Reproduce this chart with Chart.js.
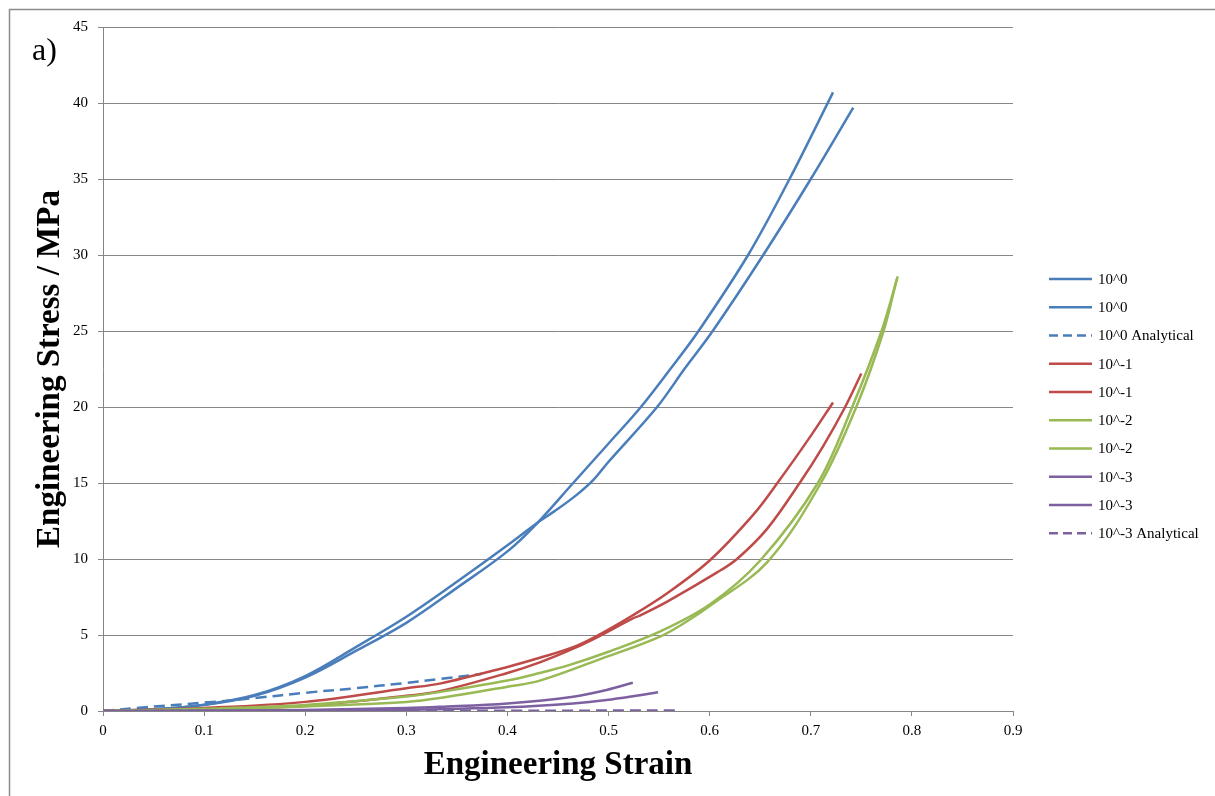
<!DOCTYPE html>
<html>
<head>
<meta charset="utf-8">
<script src="https://cdn.jsdelivr.net/npm/chart.js@4.4.0/dist/chart.umd.min.js"></script>
<style>
  html, body { margin: 0; padding: 0; background: #fff; }
  #wrap { width: 1215px; height: 796px; }
</style>
</head>
<body>
<div id="wrap"><canvas id="chart" width="1215" height="796"></canvas></div>
<script>
// strain / stress
const strain0a = [0, 0.05, 0.1, 0.15, 0.2, 0.25, 0.3, 0.35, 0.4, 0.43, 0.465, 0.5, 0.532, 0.56, 0.589, 0.638, 0.679, 0.722];
const stress0a = [0, 0.12, 0.4, 1.0, 2.2, 3.95, 5.8, 8.1, 10.5, 12.4, 15.0, 17.6, 20.0, 22.4, 25.0, 30.0, 35.0, 40.7];
const strain0b = [0, 0.05, 0.1, 0.15, 0.2, 0.25, 0.3, 0.35, 0.4, 0.43, 0.45, 0.47, 0.485, 0.5, 0.548, 0.575, 0.603, 0.653, 0.7, 0.742];
const stress0b = [0, 0.12, 0.42, 1.05, 2.3, 4.2, 6.2, 8.5, 10.9, 12.4, 13.3, 14.3, 15.2, 16.4, 20.0, 22.5, 25.0, 30.0, 35.0, 39.7];
const strain0an = [0, 0.033, 0.1, 0.15, 0.2, 0.25, 0.3, 0.333, 0.375];
const stress0an = [0, 0.2, 0.55, 0.85, 1.2, 1.5, 1.85, 2.1, 2.45];

const strain1a = [0, 0.1, 0.2, 0.3, 0.333, 0.4, 0.432, 0.465, 0.49, 0.524, 0.558, 0.6, 0.643, 0.667, 0.7, 0.722];
const stress1a = [0, 0.2, 0.6, 1.5, 1.8, 2.9, 3.5, 4.2, 5.0, 6.3, 7.75, 9.9, 12.9, 15.0, 18.1, 20.3];
const strain1b = [0, 0.1, 0.2, 0.3, 0.333, 0.4, 0.432, 0.465, 0.49, 0.524, 0.53, 0.558, 0.607, 0.627, 0.657, 0.689, 0.712, 0.734, 0.75];
const stress1b = [0, 0.1, 0.35, 1.0, 1.3, 2.5, 3.2, 4.1, 4.9, 6.1, 6.25, 7.2, 9.1, 10.0, 12.0, 15.0, 17.4, 20.0, 22.2];

const strain2a = [0, 0.1, 0.2, 0.3, 0.333, 0.4, 0.432, 0.46, 0.5, 0.55, 0.6, 0.65, 0.707, 0.741, 0.77, 0.786];
const stress2a = [0, 0.15, 0.4, 0.95, 1.25, 2.0, 2.5, 3.0, 3.9, 5.2, 7.0, 9.9, 15.0, 20.0, 25.0, 28.6];
const strain2b = [0, 0.1, 0.2, 0.3, 0.333, 0.4, 0.432, 0.491, 0.551, 0.58, 0.6, 0.657, 0.71, 0.745, 0.772, 0.785];
const stress2b = [0, 0.1, 0.3, 0.6, 0.85, 1.6, 2.0, 3.4, 4.9, 6.0, 6.9, 9.8, 15.0, 20.0, 25.0, 28.4];

const strain3a = [0, 0.1, 0.2, 0.3, 0.333, 0.4, 0.465, 0.498, 0.524];
const stress3a = [0, 0.02, 0.07, 0.2, 0.28, 0.5, 0.94, 1.38, 1.86];
const strain3b = [0, 0.1, 0.2, 0.3, 0.333, 0.4, 0.465, 0.498, 0.531, 0.549];
const stress3b = [0, 0.01, 0.03, 0.08, 0.12, 0.24, 0.5, 0.72, 1.04, 1.23];
const strain3an = [0, 0.2, 0.4, 0.571];
const stress3an = [0, 0.01, 0.02, 0.03];

const seriesLabels = ['10^0', '10^0', '10^0 Analytical', '10^-1', '10^-1', '10^-2', '10^-2', '10^-3', '10^-3', '10^-3 Analytical'];
const xTickLabels = ['0', '0.1', '0.2', '0.3', '0.4', '0.5', '0.6', '0.7', '0.8', '0.9'];
const yTickLabels = ['0', '5', '10', '15', '20', '25', '30', '35', '40', '45'];

const BLUE = '#4a7ebb', RED = '#be4b48', GREEN = '#98b954', PURPLE = '#7d60a0';
const DASH = [11, 6];
const SERIF = "'Liberation Serif', 'Times New Roman', serif";

function pts(xs, ys) {
    return xs.map((x, i) => ({x: x, y: ys[i]}));
}

function line(i, xs, ys, color, dashed) {
    return {
        label: seriesLabels[i],
        data: pts(xs, ys),
        borderColor: color,
        backgroundColor: color,
        borderWidth: 2.5,
        borderDash: dashed ? DASH : [],
        showLine: true,
        pointRadius: 0,
        tension: 0.35,
        order: 20 - i
    };
}

const datasets = [
    line(0, strain0a, stress0a, BLUE, false),
    line(1, strain0b, stress0b, BLUE, false),
    line(2, strain0an, stress0an, BLUE, true),
    line(3, strain1a, stress1a, RED, false),
    line(4, strain1b, stress1b, RED, false),
    line(5, strain2a, stress2a, GREEN, false),
    line(6, strain2b, stress2b, GREEN, false),
    line(7, strain3a, stress3a, PURPLE, false),
    line(8, strain3b, stress3b, PURPLE, false),
    line(9, strain3an, stress3an, PURPLE, true)
];

// frame, panel letter and legend on the right
const extras = {
    id: 'extras',
    afterDraw(chart) {
        const ctx = chart.ctx;
        ctx.save();
        ctx.strokeStyle = '#8c8c8c';
        ctx.lineWidth = 1.5;
        ctx.beginPath();
        ctx.moveTo(9.5, 796);
        ctx.lineTo(9.5, 9.5);
        ctx.lineTo(1215, 9.5);
        ctx.stroke();

        ctx.fillStyle = '#000';
        ctx.font = '32px ' + SERIF;
        ctx.textBaseline = 'middle';
        ctx.textAlign = 'left';
        ctx.fillText('a)', 32, 52);

        ctx.font = '15px ' + SERIF;
        chart.data.datasets.forEach((ds, i) => {
            const y = 279 + i * 28.25;
            ctx.strokeStyle = ds.borderColor;
            ctx.lineWidth = 2.5;
            ctx.setLineDash(ds.borderDash.length ? [9, 5] : []);
            ctx.beginPath();
            ctx.moveTo(1049, y);
            ctx.lineTo(1092, y);
            ctx.stroke();
            ctx.setLineDash([]);
            ctx.fillText(ds.label, 1098, y + 1);
        });
        ctx.restore();
    }
};

const GRID = '#868686';

new Chart(document.getElementById('chart'), {
    type: 'scatter',
    data: {datasets: datasets},
    options: {
        responsive: false,
        animation: false,
        layout: {padding: {left: 0, top: 27, right: 202, bottom: 0}},
        plugins: {legend: {display: false}, tooltip: {enabled: false}},
        scales: {
            x: {
                type: 'linear',
                min: 0, max: 0.9,
                afterFit: (s) => { s.height = 85; },
                ticks: {
                    stepSize: 0.1,
                    padding: 6,
                    color: '#000',
                    font: {family: SERIF, size: 15},
                    callback: (v, i) => xTickLabels[i]
                },
                grid: {drawOnChartArea: false, drawTicks: true, tickLength: 5, color: GRID},
                border: {color: GRID, width: 1},
                title: {
                    display: true,
                    text: 'Engineering Strain',
                    color: '#000',
                    font: {family: SERIF, size: 33, weight: 'bold'},
                    padding: {top: 0, bottom: 11}
                }
            },
            y: {
                type: 'linear',
                min: 0, max: 45,
                afterFit: (s) => { s.width = 103; },
                ticks: {
                    stepSize: 5,
                    padding: 10,
                    color: '#000',
                    font: {family: SERIF, size: 15},
                    callback: (v, i) => yTickLabels[i]
                },
                grid: {color: GRID, tickLength: 5},
                border: {color: GRID, width: 1},
                title: {
                    display: true,
                    text: 'Engineering Stress / MPa',
                    color: '#000',
                    font: {family: SERIF, size: 33, weight: 'bold'},
                    padding: {top: 31, bottom: 0}
                }
            }
        }
    },
    plugins: [extras]
});
</script>
</body>
</html>
